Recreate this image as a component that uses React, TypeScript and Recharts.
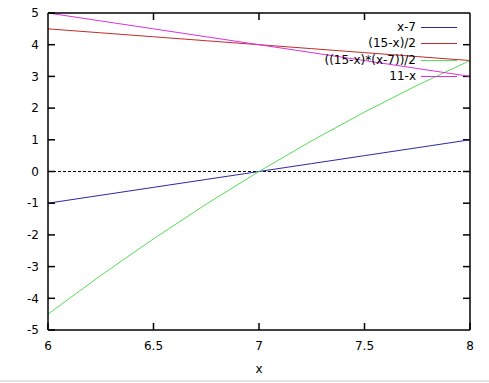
import React from 'react';
import { LineChart, Line, XAxis, YAxis, ReferenceLine } from 'recharts';

const xValues = [6, 6.25, 6.5, 6.75, 7, 7.25, 7.5, 7.75, 8];
const lin = [-1, -0.75, -0.5, -0.25, 0, 0.25, 0.5, 0.75, 1];
const half = [4.5, 4.375, 4.25, 4.125, 4, 3.875, 3.75, 3.625, 3.5];
const prod = [-4.5, -3.28, -2.125, -1.03, 0, 0.97, 1.875, 2.72, 3.5];
const elev = [5, 4.75, 4.5, 4.25, 4, 3.75, 3.5, 3.25, 3];

const xTicks = [6, 6.5, 7, 7.5, 8];
const yTicks = [-5, -4, -3, -2, -1, 0, 1, 2, 3, 4, 5];

const seriesNames = ['x-7', '(15-x)/2', '((15-x)*(x-7))/2', '11-x'];
const seriesKeys = ['a', 'b', 'c', 'd'];
const seriesColors = ['#2a2aa8', '#c42a2a', '#55dd55', '#dd2fdd'];

const data = xValues.map((x, i) => ({ x, a: lin[i], b: half[i], c: prod[i], d: elev[i] }));

const FONT = '"DejaVu Sans", Verdana, sans-serif';
const TICK_LEN = 7;
const AX_TICK = 6;
const X_MARGIN = 5;
const Y_MARGIN = 3;

const BottomTick = (props: any) => {
  const x = Number(props.x);
  const y = Number(props.y);
  const axisY = y - AX_TICK - X_MARGIN;
  return (
    <g>
      <line x1={x} y1={axisY} x2={x} y2={axisY - TICK_LEN} stroke="#000" strokeWidth={1.5} />
      <text x={x} y={y} dy="0.71em" textAnchor="middle" fill="#000" fontSize={12} fontFamily={FONT}>
        {props.payload.value}
      </text>
    </g>
  );
};

const LeftTick = (props: any) => {
  const x = Number(props.x);
  const y = Number(props.y);
  const axisX = x + AX_TICK + Y_MARGIN;
  return (
    <g>
      <line x1={axisX} y1={y} x2={axisX + TICK_LEN} y2={y} stroke="#000" strokeWidth={1.5} />
      <text x={x} y={y} dy="0.355em" textAnchor="end" fill="#000" fontSize={12} fontFamily={FONT}>
        {props.payload.value}
      </text>
    </g>
  );
};

// Upper / right tick marks drawn at the far end of reference lines
const FarTick = (props: any) => {
  const x1 = Number(props.x1);
  const y1 = Number(props.y1);
  const x2 = Number(props.x2);
  const y2 = Number(props.y2);
  if (Math.abs(x1 - x2) < 0.5) {
    const top = Math.min(y1, y2);
    return <line x1={x1} y1={top} x2={x1} y2={top + TICK_LEN} stroke="#000" strokeWidth={1.5} />;
  }
  const right = Math.max(x1, x2);
  return <line x1={right} y1={y1} x2={right - TICK_LEN} y2={y1} stroke="#000" strokeWidth={1.5} />;
};

export default function App() {
  return (
    <div style={{ position: 'absolute', left: 0, top: 0, width: 489, height: 383, background: '#fff' }}>
      <LineChart width={489} height={383} data={data} margin={{ top: 12, right: 18, bottom: 23, left: 0 }}>
        <XAxis
          dataKey="x"
          type="number"
          domain={[6, 8]}
          ticks={xTicks}
          height={30}
          tickSize={AX_TICK}
          tickMargin={X_MARGIN}
          stroke="#000"
          strokeWidth={1.5}
          tickLine={false}
          tick={BottomTick}
        />
        <XAxis
          xAxisId="top"
          orientation="top"
          dataKey="x"
          type="number"
          domain={[6, 8]}
          ticks={xTicks}
          height={1}
          tickSize={0}
          stroke="#000"
          strokeWidth={1.5}
          tickLine={false}
          tick={false}
        />
        <YAxis
          type="number"
          domain={[-5, 5]}
          ticks={yTicks}
          width={48}
          tickSize={AX_TICK}
          tickMargin={Y_MARGIN}
          stroke="#000"
          strokeWidth={1.5}
          tickLine={false}
          tick={LeftTick}
        />
        <YAxis
          yAxisId="right"
          orientation="right"
          type="number"
          domain={[-5, 5]}
          ticks={yTicks}
          width={1}
          tickSize={0}
          stroke="#000"
          strokeWidth={1.5}
          tickLine={false}
          tick={false}
        />
        {xTicks.slice(1, -1).map((t) => (
          <ReferenceLine key={'xt' + t} x={t} stroke="none" shape={FarTick} />
        ))}
        {yTicks.slice(1, -1).map((t) => (
          <ReferenceLine key={'yt' + t} y={t} stroke="none" shape={FarTick} />
        ))}
        <ReferenceLine y={0} stroke="#000" strokeDasharray="3 2" />
        {seriesKeys.map((k, i) => (
          <Line
            key={k}
            dataKey={k}
            type="linear"
            stroke={seriesColors[i]}
            strokeWidth={1}
            dot={false}
            isAnimationActive={false}
          />
        ))}
      </LineChart>
      <div
        style={{
          position: 'absolute',
          left: 48,
          width: 422,
          top: 362,
          textAlign: 'center',
          fontFamily: FONT,
          fontSize: 12,
          color: '#000',
        }}
      >
        x
      </div>
      {seriesNames.map((name, i) => (
        <div
          key={name}
          style={{
            position: 'absolute',
            right: 489 - 416,
            top: 19 + i * 16.3,
            fontFamily: FONT,
            fontSize: 12,
            lineHeight: '16px',
            color: '#000',
            whiteSpace: 'nowrap',
          }}
        >
          {name}
        </div>
      ))}
      {seriesColors.map((c, i) => (
        <div
          key={c}
          style={{
            position: 'absolute',
            left: 421,
            width: 36,
            top: 27 + i * 16.3,
            height: 1,
            background: c,
          }}
        />
      ))}
      <div style={{ position: 'absolute', left: 0, top: 380, width: 489, height: 2, background: '#e4e4e4' }} />
    </div>
  );
}
